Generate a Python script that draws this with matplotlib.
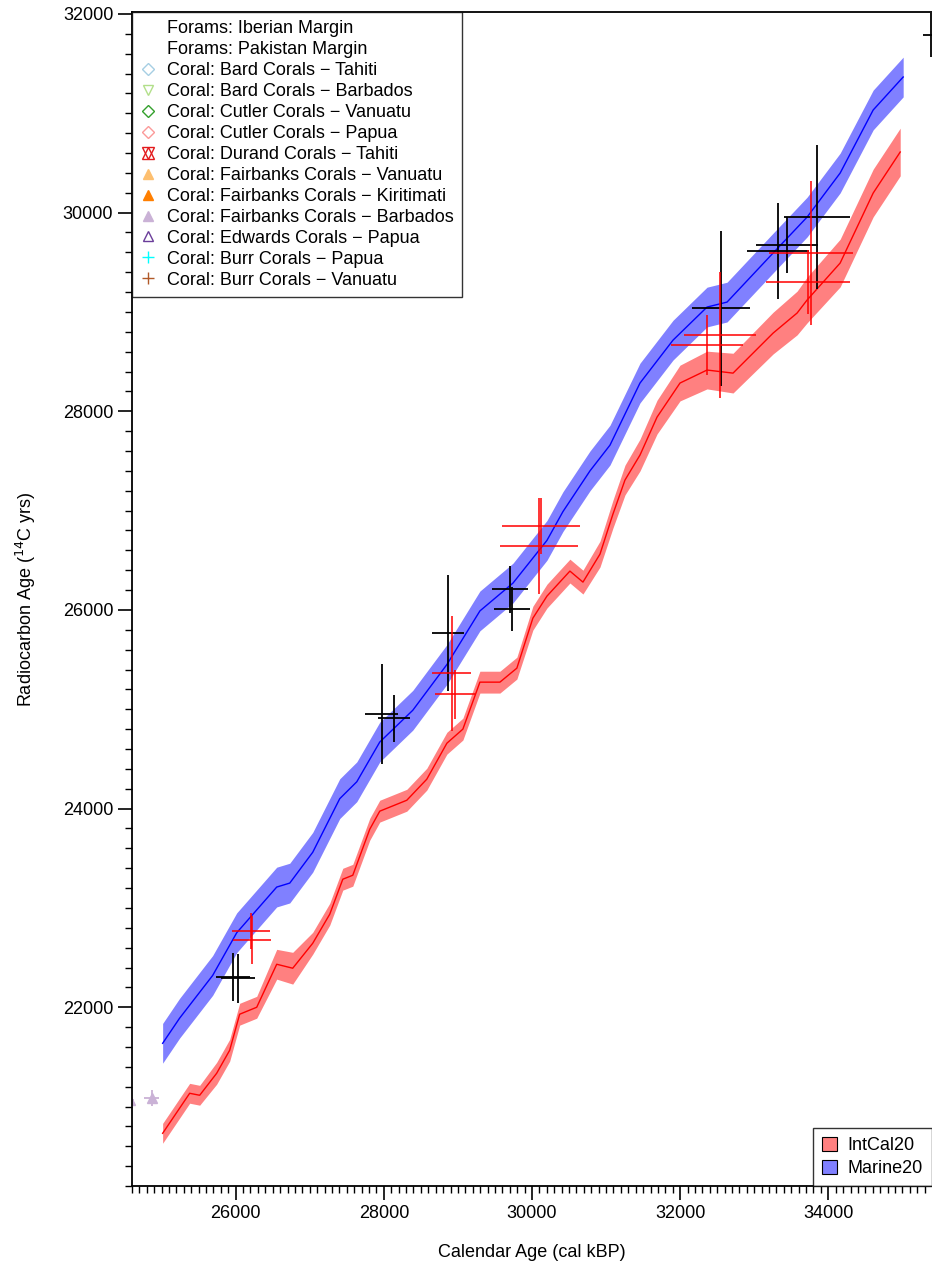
import matplotlib.pyplot as plt
from matplotlib.lines import Line2D
from matplotlib.patches import Patch
from matplotlib.legend_handler import HandlerTuple

plt.rcParams['font.family'] = ['Liberation Sans', 'DejaVu Sans']

# Marine20 curve (cal BP, 14C yrs, 1-sigma)
marine_cal = [25014, 25243, 25689, 26014, 26554, 26730, 27040, 27405, 27635, 27945,
              28391, 28851, 29297, 29743, 30202, 30418, 30783, 31053, 31458, 31904,
              32363, 32633, 33255, 33714, 34160, 34606, 35011]
marine_c14 = [21637, 21890, 22320, 22750, 23210, 23250, 23560, 24100, 24270, 24670,
              24990, 25450, 25990, 26270, 26700, 26990, 27400, 27659, 28284, 28716,
              29049, 29099, 29593, 29955, 30398, 31033, 31365]
marine_sig = [200] * len(marine_cal)

# IntCal20 curve
intcal_cal = [25014, 25379, 25514, 25743, 25919, 26054, 26284, 26554, 26770, 27040,
              27270, 27446, 27581, 27810, 27945, 28310, 28580, 28851, 29067, 29297,
              29567, 29796, 30012, 30202, 30512, 30688, 30918, 31093, 31255, 31458,
              31688, 31998, 32363, 32714, 33255, 33579, 33714, 34160, 34606, 34971]
intcal_c14 = [20731, 21134, 21114, 21335, 21567, 21930, 22000, 22433, 22393, 22644,
              22937, 23289, 23329, 23792, 23974, 24084, 24296, 24658, 24800, 25273,
              25273, 25414, 25917, 26139, 26391, 26280, 26562, 26965, 27307, 27559,
              27941, 28284, 28415, 28384, 28787, 28989, 29120, 29492, 30197, 30610]
intcal_sig = [100, 100, 100, 110, 110, 110, 110, 150, 160, 110,
              110, 110, 110, 110, 110, 110, 110, 110, 110, 110,
              110, 110, 120, 120, 120, 120, 130, 140, 150, 160,
              170, 180, 190, 200, 210, 220, 230, 240, 240, 240]

# Forams: Iberian Margin (black)
ib_cal = [25959, 26027, 27973, 28135, 28864, 29702, 29729, 32552, 33322, 33444, 33849, 35389]
ib_c14 = [22302, 22290, 24950, 24910, 25766, 26209, 26008, 29039, 29613, 29673, 29955, 31788]
ib_calerr = [230, 230, 223, 220, 216, 243, 243, 392, 419, 419, 446, 110]
ib_c14err = [242, 250, 503, 237, 584, 237, 222, 780, 483, 282, 725, 220]

# Forams: Pakistan Margin (red)
pk_cal = [26203, 26216, 28918, 28959, 30094, 30121, 32539, 32363, 33768, 33728]
pk_c14 = [22765, 22675, 25363, 25152, 26642, 26844, 28767, 28666, 29593, 29301]
pk_calerr = [257, 257, 264, 270, 527, 527, 486, 486, 567, 567]
pk_c14err = [181, 242, 579, 247, 483, 282, 634, 302, 725, 322]

# Coral: Fairbanks Barbados
fb_cal = [24568, 24865]
fb_c14 = [21063, 21084]
fb_calerr = [60, 100]
fb_c14err = [100, 80]

fig = plt.figure(figsize=(9.32, 12.85), dpi=100)
ax = fig.add_axes([0.1416, 0.077, 0.8584, 0.9137])

lo = [c - s for c, s in zip(intcal_c14, intcal_sig)]
hi = [c + s for c, s in zip(intcal_c14, intcal_sig)]
ax.fill_between(intcal_cal, lo, hi, color='#FF8080', lw=0)
ax.plot(intcal_cal, intcal_c14, color='red', lw=1)
lo = [c - s for c, s in zip(marine_c14, marine_sig)]
hi = [c + s for c, s in zip(marine_c14, marine_sig)]
ax.fill_between(marine_cal, lo, hi, color='#8080FF', lw=0)
ax.plot(marine_cal, marine_c14, color='blue', lw=1)

ax.errorbar(ib_cal, ib_c14, xerr=ib_calerr, yerr=ib_c14err, fmt='none', ecolor='black', elinewidth=1.3)
ax.errorbar(pk_cal, pk_c14, xerr=pk_calerr, yerr=pk_c14err, fmt='none', ecolor='red', elinewidth=1.3, alpha=0.85)
ax.errorbar(fb_cal, fb_c14, xerr=fb_calerr, yerr=fb_c14err, fmt='^', color='#CAB2D6', ms=7, elinewidth=1.3)

ax.set_xlim(24600, 35400)
ax.set_ylim(20200, 32020)
ax.set_xticks(range(26000, 35000, 2000))
ax.set_xticks(range(24600, 35400, 100), minor=True)
ax.set_yticks(range(22000, 33000, 2000))
ax.set_yticks(range(20200, 32020, 200), minor=True)
ax.tick_params(which='major', length=10, width=1.2, labelsize=13, direction='out')
ax.tick_params(which='minor', length=5, width=1, direction='out')
ax.spines['right'].set_visible(False)
for s in ['left', 'bottom', 'top']:
    ax.spines[s].set_linewidth(1.3)
ax.set_xlabel('Calendar Age (cal kBP)', fontsize=13, labelpad=16)
ax.set_ylabel('Radiocarbon Age ($^{14}$C yrs)', fontsize=13, labelpad=18)

blank = Line2D([], [], ls='none')
handles = [
    blank, blank,
    Line2D([], [], ls='none', marker='D', mfc='none', mec='#A6CEE3', ms=6),
    Line2D([], [], ls='none', marker='v', mfc='none', mec='#B2DF8A', ms=7),
    Line2D([], [], ls='none', marker='D', mfc='none', mec='#33A02C', ms=6),
    Line2D([], [], ls='none', marker='D', mfc='none', mec='#FB9A99', ms=6),
    (Line2D([], [], ls='none', marker='^', mfc='none', mec='#E31A1C', ms=8),
     Line2D([], [], ls='none', marker='v', mfc='none', mec='#E31A1C', ms=8)),
    Line2D([], [], ls='none', marker='^', color='#FDBF6F', ms=7),
    Line2D([], [], ls='none', marker='^', color='#FF7F00', ms=7),
    Line2D([], [], ls='none', marker='^', color='#CAB2D6', ms=7),
    Line2D([], [], ls='none', marker='^', mfc='none', mec='#6A3D9A', ms=7),
    Line2D([], [], ls='none', marker='+', color='cyan', ms=8),
    Line2D([], [], ls='none', marker='+', color='#B15928', ms=8),
]
labels = ['Forams: Iberian Margin', 'Forams: Pakistan Margin',
          'Coral: Bard Corals \u2212 Tahiti', 'Coral: Bard Corals \u2212 Barbados',
          'Coral: Cutler Corals \u2212 Vanuatu', 'Coral: Cutler Corals \u2212 Papua',
          'Coral: Durand Corals \u2212 Tahiti', 'Coral: Fairbanks Corals \u2212 Vanuatu',
          'Coral: Fairbanks Corals \u2212 Kiritimati', 'Coral: Fairbanks Corals \u2212 Barbados',
          'Coral: Edwards Corals \u2212 Papua', 'Coral: Burr Corals \u2212 Papua',
          'Coral: Burr Corals \u2212 Vanuatu']
leg1 = ax.legend(handles, labels, loc='upper left', bbox_to_anchor=(0, 1), borderaxespad=0,
                 fontsize=13, frameon=True, fancybox=False, edgecolor='black',
                 handlelength=0.9, handletextpad=0.6, labelspacing=0.22,
                 borderpad=0.45, handler_map={tuple: HandlerTuple(ndivide=1)})
leg1.get_frame().set_linewidth(1.0)
ax.add_artist(leg1)

h2 = [Patch(fc='#FF8080', ec='black', lw=0.8), Patch(fc='#8080FF', ec='black', lw=0.8)]
leg2 = ax.legend(h2, ['IntCal20', 'Marine20'], loc='lower right', borderaxespad=0,
                 fontsize=13, frameon=True, fancybox=False, edgecolor='black',
                 handlelength=0.8, handleheight=0.8, handletextpad=0.6, labelspacing=0.3,
                 borderpad=0.5)
leg2.get_frame().set_linewidth(1.0)

fig.savefig('out.png', dpi=100)
